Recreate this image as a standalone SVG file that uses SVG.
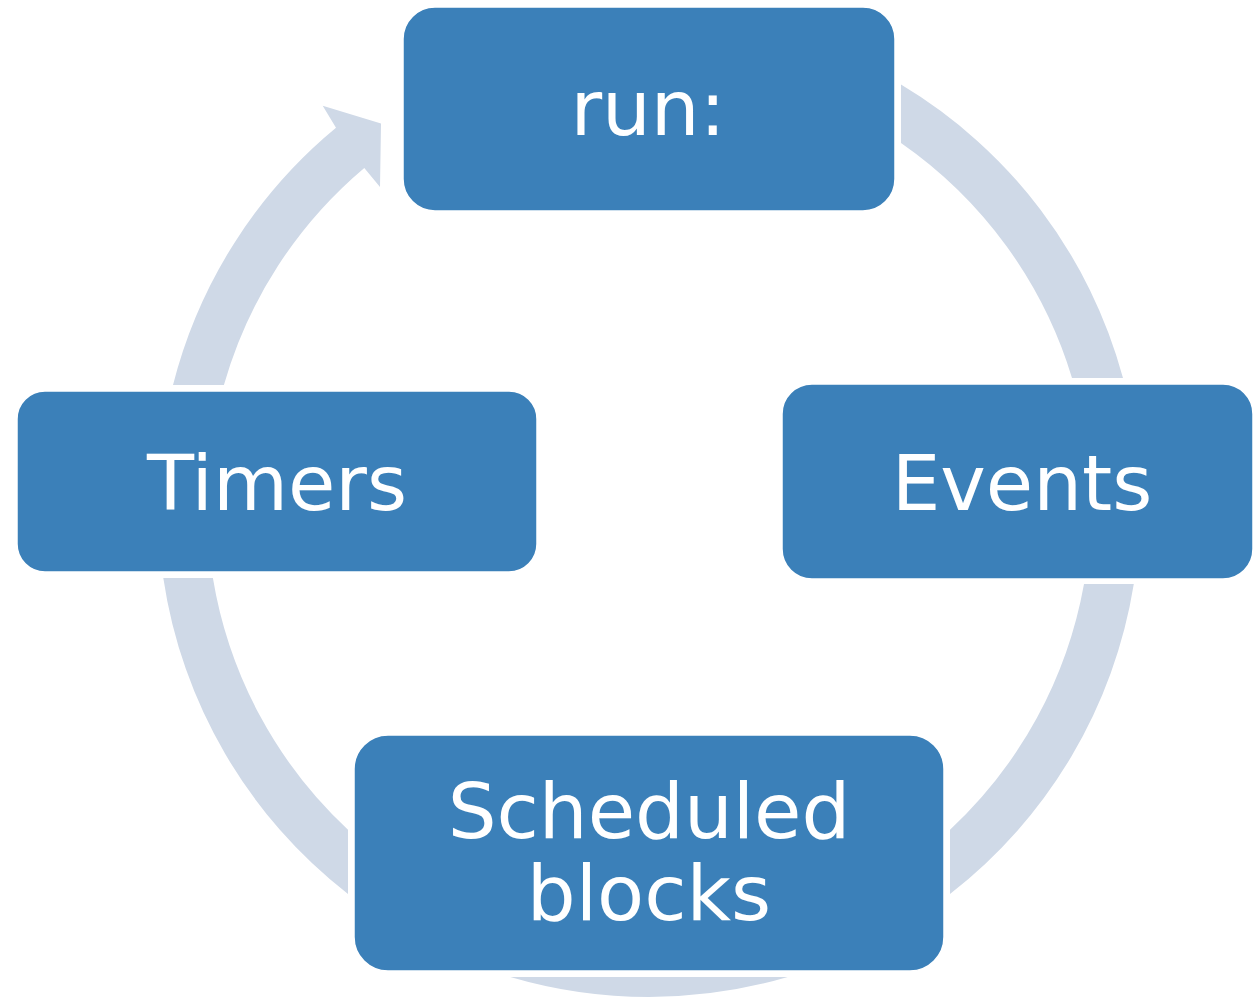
<svg xmlns="http://www.w3.org/2000/svg" width="1253" height="1000" viewBox="0 0 1253 1000">
<style>
.ring{fill:#CFD9E7;stroke:none}
.box{fill:#3B80B9;stroke:#ffffff;stroke-width:1.5}
.lbl{fill:#ffffff;font-family:"DejaVu Sans","Verdana",sans-serif;font-size:77px;text-anchor:middle}
</style>
<rect width="1253" height="1000" fill="#ffffff"/>
<g id="connectors">
<path class="ring" d="M901,84.6 A491,491 0 0 1 1123,378 L1072,378 A442,442 0 0 0 901,143 Z"/>
<path class="ring" d="M1133.8,584 A491,491 0 0 1 950,894 L950,829.7 A442,442 0 0 0 1084,584 Z"/>
<path class="ring" d="M510.3,977 A491,491 0 0 0 787.7,977 Z"/>
<path class="ring" d="M348,893.9 A491,491 0 0 1 163.3,578 L212.9,578 A442,442 0 0 0 348,829.7 Z"/>
<path class="ring" d="M173,385 A491,491 0 0 1 336,127.7 L322.7,105.7 L381,123.5 L380,187 L364.3,167.9 A442,442 0 0 0 223.9,385 Z"/>
</g>
<g id="node-run">
<rect class="box" x="403" y="7" width="492" height="204" rx="32"/>
<text class="lbl" x="648" y="135">run:</text>
</g>
<g id="node-events">
<rect class="box" x="782" y="384" width="471" height="195" rx="30"/>
<text class="lbl" x="1022" y="510">Events</text>
</g>
<g id="node-scheduled">
<rect class="box" x="354" y="735" width="590" height="236" rx="34"/>
<text class="lbl" x="649" y="838">Scheduled</text>
<text class="lbl" x="649" y="920">blocks</text>
</g>
<g id="node-timers">
<rect class="box" x="17" y="391" width="520" height="181" rx="28"/>
<text class="lbl" x="277" y="510">Timers</text>
</g>
</svg>
